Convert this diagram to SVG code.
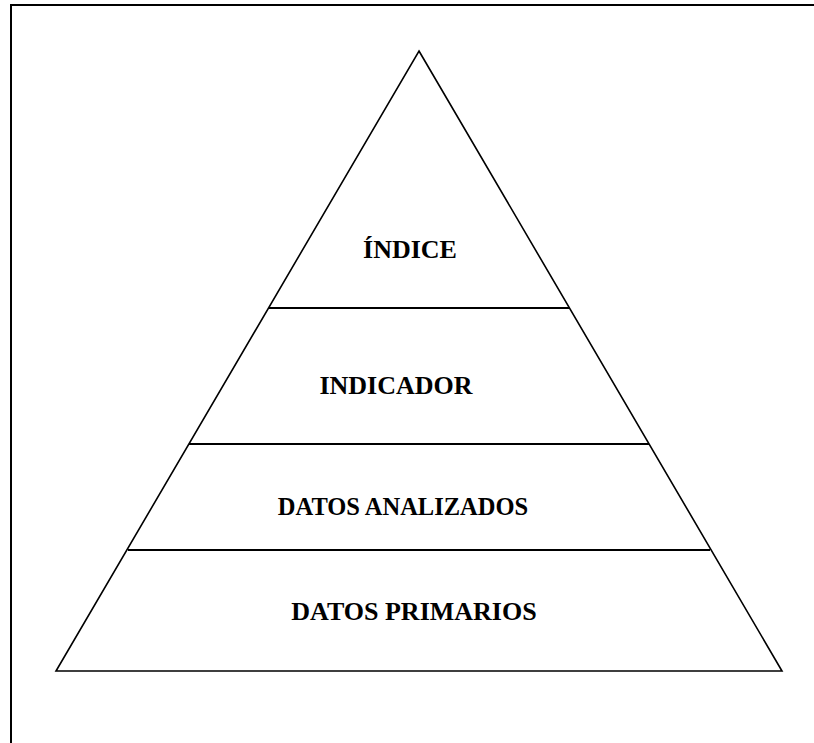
<svg xmlns="http://www.w3.org/2000/svg" width="814" height="743" viewBox="0 0 814 743">
  <style>
    .frame { fill: none; stroke: #000; stroke-width: 2; }
    .outline { fill: none; stroke: #000; stroke-width: 1.6; stroke-linejoin: miter; }
    .divider { stroke: #000; stroke-width: 2; }
    .label { font-family: "Liberation Serif", "Times New Roman", serif; font-weight: bold; fill: #000; text-anchor: middle; }
  </style>
  <rect width="814" height="743" fill="#fff"/>
  <rect class="frame" x="11" y="5" width="830" height="760"/>
  <g id="pyramid">
    <polygon class="outline" points="419,51 782,671 56,671"/>
  </g>
  <g id="connectors">
    <line class="divider" x1="269" y1="308" x2="570" y2="308"/>
    <line class="divider" x1="189" y1="444" x2="649" y2="444"/>
    <line class="divider" x1="128" y1="550" x2="710" y2="550"/>
  </g>
  <g id="tier-indice">
    <text class="label" x="410" y="258" font-size="26">ÍNDICE</text>
  </g>
  <g id="tier-indicador">
    <text class="label" x="396" y="394" font-size="26">INDICADOR</text>
  </g>
  <g id="tier-datos-analizados">
    <text class="label" x="403" y="515" font-size="24.5">DATOS ANALIZADOS</text>
  </g>
  <g id="tier-datos-primarios">
    <text class="label" x="414" y="620" font-size="26">DATOS PRIMARIOS</text>
  </g>
</svg>
